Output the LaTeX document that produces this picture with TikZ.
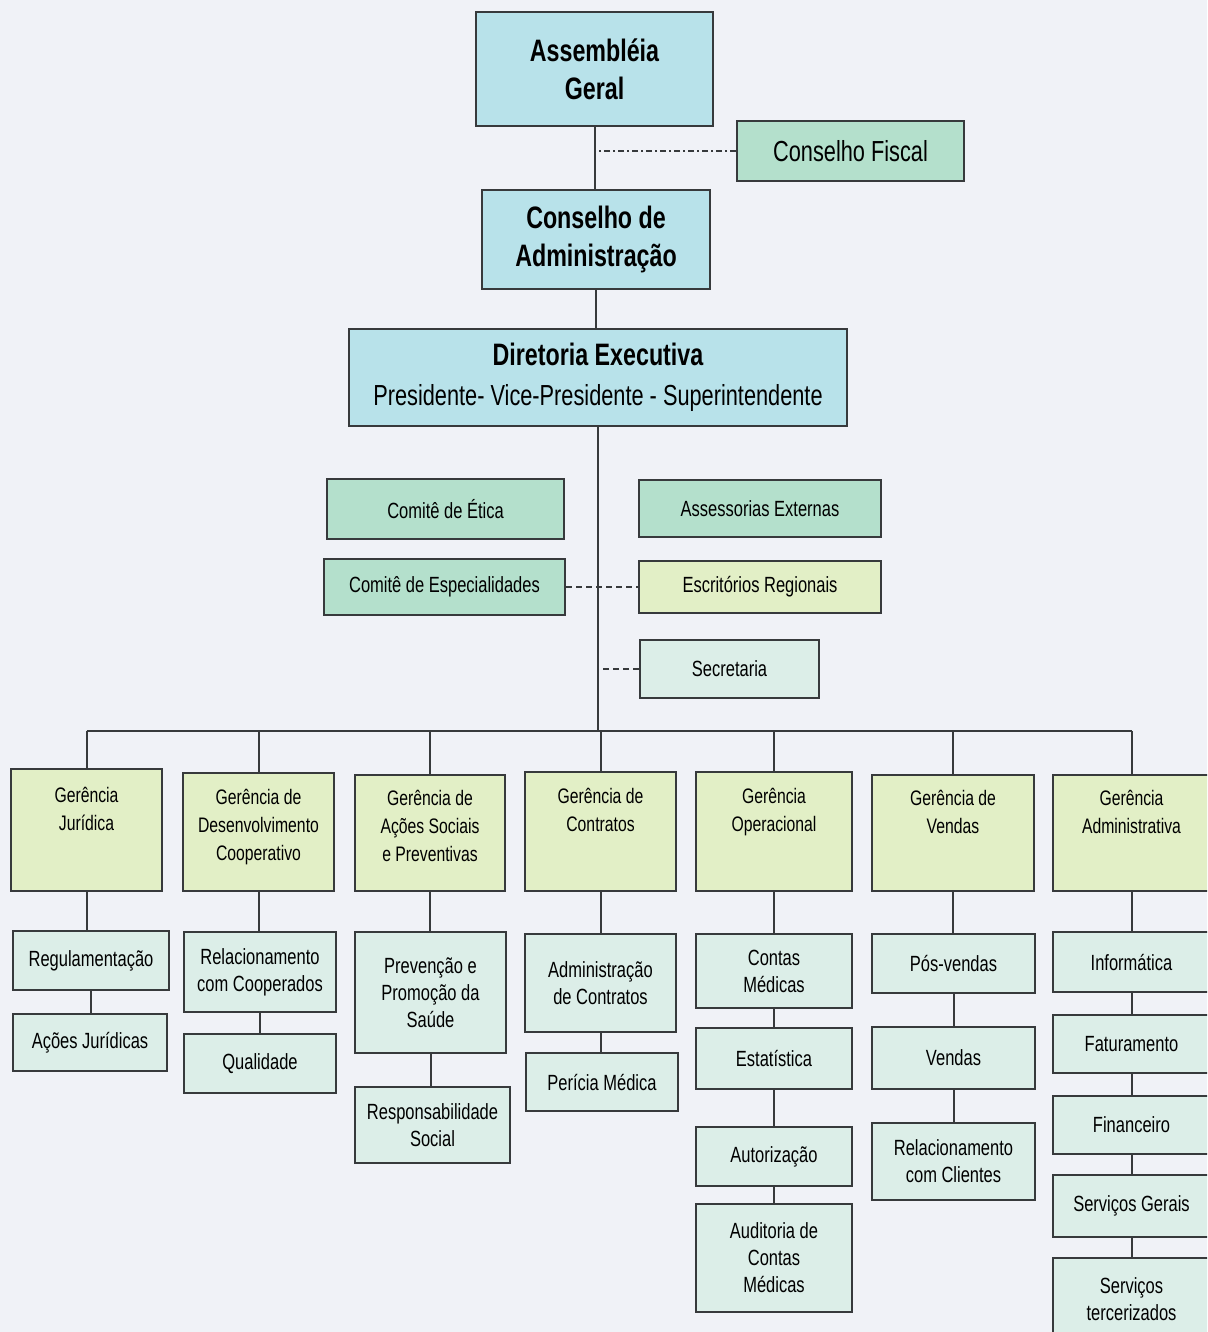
\documentclass[tikz,border=0pt]{standalone}
\usepackage{fontspec}
\setmainfont[FakeStretch=0.75]{Liberation Sans}
\usetikzlibrary{positioning}

\definecolor{bgcol}{RGB}{240,242,247}
\definecolor{linecol}{RGB}{55,58,60}
\definecolor{topblue}{RGB}{184,226,234}
\definecolor{comgreen}{RGB}{180,224,204}
\definecolor{geryellow}{RGB}{226,239,198}
\definecolor{submint}{RGB}{220,238,232}

\tikzset{sz/.style 2 args={minimum width=#1*0.5pt, minimum height=#2*0.5pt}}
\tikzstyle{box}=[draw=linecol, line width=1pt, inner sep=1pt, align=center]
\tikzstyle{topbox}=[box, fill=topblue, font=\fontsize{15.5}{19}\selectfont\bfseries]
\tikzstyle{grnbox}=[box, fill=comgreen, font=\fontsize{11}{13}\selectfont]
\tikzstyle{gerbox}=[box, fill=geryellow, inner sep=0pt, font=\fontsize{10.5}{14}\selectfont]
\tikzstyle{subbox}=[box, fill=submint, font=\fontsize{11}{13.5}\selectfont]
\tikzstyle{link}=[draw=linecol, line width=1pt]

\newcommand{\gertext}[1]{\parbox[c][43pt][t]{74pt}{\centering #1}}

\begin{document}
\begin{tikzpicture}[x=0.5pt, y=-0.5pt]

\useasboundingbox (0,0) rectangle (1207,1332);
\clip (0,0) rectangle (1207,1332);
\fill[bgcol] (0,0) rectangle (1207,1332);

% top of the chart
\node [topbox, sz={237}{114}] (ag) at (594.5,69) {Assembléia\\Geral};
\node [grnbox, sz={227}{60}, font=\fontsize{14.5}{17}\selectfont] (cf) at (850.5,151) {Conselho Fiscal};
\node [topbox, sz={228}{99}] (ca) at (596,239.5) {Conselho de\\Administração};
\node [topbox, sz={498}{97}, font=\fontsize{14.5}{20}\selectfont] (de) at (598,377.5)
  {{\bfseries\fontsize{15.5}{20}\selectfont Diretoria Executiva}\\Presidente- Vice-Presidente - Superintendente};

% staff boxes
\node [grnbox, sz={237}{60}] (etica) at (445.5,509) {Comitê de Ética};
\node [grnbox, sz={242}{57}] (asse) at (760,508.5) {Assessorias Externas};
\node [grnbox, sz={241}{56}] (espec) at (444.5,587) {Comitê de Especialidades};
\node [grnbox, sz={242}{52}, fill=geryellow] (escr) at (760,587) {Escritórios Regionais};
\node [subbox, sz={179}{58}] (secr) at (729.5,669) {Secretaria};

\coordinate (bus) at (597,731);

% gerencias
\node [gerbox, sz={151}{122}] (g1) at (86.5,830) {\gertext{Gerência\\Jurídica}};
\node [gerbox, sz={151}{118}] (g2) at (258.5,832) {\gertext{Gerência de\\Desenvolvimento\\Cooperativo}};
\node [gerbox, sz={150}{116}] (g3) at (430,833) {\gertext{Gerência de\\Ações Sociais\\e Preventivas}};
\node [gerbox, sz={151}{119}] (g4) at (600.5,831.5) {\gertext{Gerência de\\Contratos}};
\node [gerbox, sz={156}{119}] (g5) at (774,831.5) {\gertext{Gerência\\Operacional}};
\node [gerbox, sz={162}{116}] (g6) at (953,833) {\gertext{Gerência de\\Vendas}};
\node [gerbox, sz={157}{116}] (g7) at (1131.5,833) {\gertext{Gerência\\Administrativa}};

% areas under each gerencia
\node [subbox, sz={156}{59}] (s11) at (91,960.5) {Regulamentação};
\node [subbox, sz={154}{57}] (s12) at (90,1042.5) {Ações Jurídicas};

\node [subbox, sz={152}{80}] (s21) at (260,972) {Relacionamento\\com Cooperados};
\node [subbox, sz={152}{59}] (s22) at (260,1063.5) {Qualidade};

\node [subbox, sz={151}{121}] (s31) at (430.5,992.5) {Prevenção e\\Promoção da\\Saúde};
\node [subbox, sz={155}{76}] (s32) at (432.5,1125) {Responsabilidade\\Social};

\node [subbox, sz={151}{98}] (s41) at (600.5,983) {Administração\\de Contratos};
\node [subbox, sz={152}{58}] (s42) at (602,1082) {Perícia Médica};

\node [subbox, sz={156}{74}] (s51) at (774,971) {Contas\\Médicas};
\node [subbox, sz={156}{61}] (s52) at (774,1058.5) {Estatística};
\node [subbox, sz={156}{59}] (s53) at (774,1156.5) {Autorização};
\node [subbox, sz={156}{108}] (s54) at (774,1258) {Auditoria de\\Contas\\Médicas};

\node [subbox, sz={163}{59}] (s61) at (953.5,963.5) {Pós-vendas};
\node [subbox, sz={163}{62}] (s62) at (953.5,1058) {Vendas};
\node [subbox, sz={163}{77}] (s63) at (953.5,1161.5) {Relacionamento\\com Clientes};

\node [subbox, sz={157}{60}] (s71) at (1131.5,962) {Informática};
\node [subbox, sz={157}{58}] (s72) at (1131.5,1044) {Faturamento};
\node [subbox, sz={157}{58}] (s73) at (1131.5,1125) {Financeiro};
\node [subbox, sz={157}{62}] (s74) at (1131.5,1206) {Serviços Gerais};
\node [subbox, sz={157}{82}] (s75) at (1131.5,1299) {Serviços\\tercerizados};

% connectors
\path [link] (ag.south) edge (ag.south |- ca.north)
             (ca.south) edge (ca.south |- de.north)
             (de.south) edge (de.south |- bus)
             (g1.north |- bus) edge (g7.north |- bus);
\draw [link, dash pattern=on 3pt off 1.5pt on 1pt off 1.5pt] (cf.west) -- (cf.west -| ag.south);
\draw [link, dash pattern=on 3pt off 2pt] (espec.east) -- (escr.west);
\draw [link, dash pattern=on 3pt off 2pt] (secr.west) -- (secr.west -| de.south);

\foreach \i in {1,...,7}
  \draw [link] (g\i.north) -- (g\i.north |- bus);

\foreach \a/\b in {g1/s11, s11/s12, g2/s21, s21/s22, g3/s31, s31/s32,
                   g4/s41, s41/s42, g5/s51, s51/s52, s52/s53, s53/s54,
                   g6/s61, s61/s62, s62/s63,
                   g7/s71, s71/s72, s72/s73, s73/s74, s74/s75}
  \draw [link] (\a.south) -- (\a.south |- \b.north);

\end{tikzpicture}
\end{document}
